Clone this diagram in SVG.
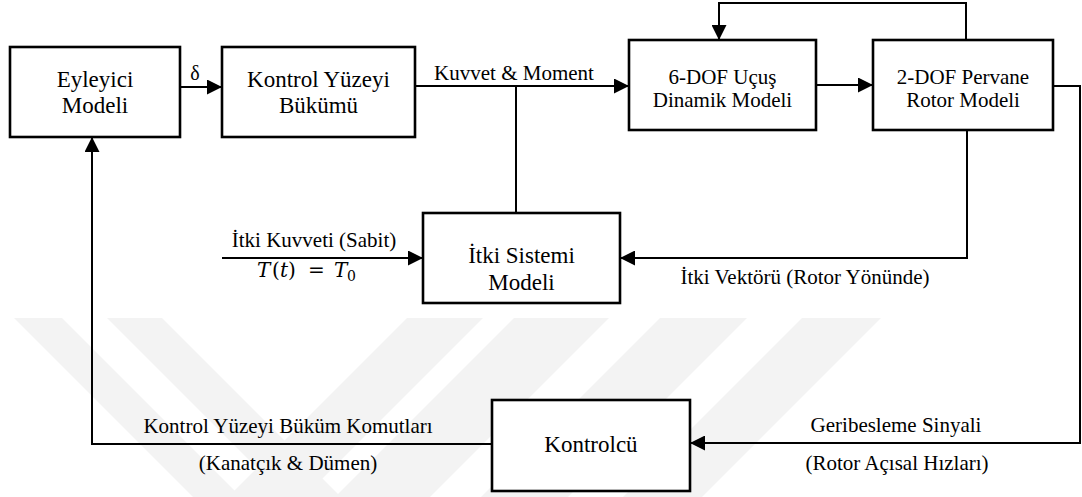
<svg xmlns="http://www.w3.org/2000/svg" width="1082" height="497" viewBox="0 0 1082 497">
<style>
text{font-family:"Liberation Serif","Times New Roman",serif;fill:#000}
.n{font-size:23px;text-anchor:middle}
.m{font-size:21px;text-anchor:middle}
.l{font-size:21px;text-anchor:middle}
.math{font-family:"DejaVu Serif",serif;font-size:20px}
.box{fill:#fff;stroke:#000;stroke-width:2.6}
.c{fill:none;stroke:#000;stroke-width:2}
.a{marker-end:url(#ah)}
.wm{fill:#f3f3f3}
</style>
<defs>
<marker id="ah" markerUnits="userSpaceOnUse" markerWidth="15" markerHeight="15" refX="15" refY="7.5" orient="auto">
<path d="M0,0 L15,7.5 L0,15 Z" fill="#000"/>
</marker>
</defs>
<rect width="1082" height="497" fill="#fff"/>
<g id="watermark">
<polygon class="wm" points="14,318 62,318 241,497 193,497"/>
<polygon class="wm" points="107,318 162,318 341,497 286,497"/>
<polygon class="wm" points="407,318 483,318 304,497 228,497"/>
<polygon class="wm" points="514,318 609,318 430,497 335,497"/>
<polygon class="wm" points="660,318 747,318 568,497 481,497"/>
<polygon class="wm" points="802,318 881,318 702,497 623,497"/>
</g>
<g id="connectors">
<path class="c a" d="M180,87 H222"/>
<path class="c a" d="M415,86 H629"/>
<path class="c" d="M516,86 V213"/>
<path class="c a" d="M816,85 H873"/>
<path class="c a" d="M966,40 V3 H719 V40"/>
<path class="c a" d="M1053,86 H1080 V443 H690"/>
<path class="c a" d="M967,130 V258 H620"/>
<path class="c a" d="M222,258 H423"/>
<path class="c a" d="M492,444 H92 V137"/>
<text class="l" x="195" y="80" style="font-size:20px">δ</text>
<text class="l" x="514" y="80">Kuvvet &amp; Moment</text>
<text class="l" x="314" y="247">İtki Kuvveti (Sabit)</text>
<text class="math" x="257" y="277"><tspan font-style="italic">T</tspan><tspan x="272">(</tspan><tspan x="280" font-style="italic">t</tspan><tspan x="288">)</tspan><tspan x="308">=</tspan><tspan x="334" font-style="italic">T</tspan><tspan x="347" dy="4" style="font-size:14px">0</tspan></text>
<text class="l" x="805" y="284">İtki Vektörü (Rotor Yönünde)</text>
<text class="l" x="288" y="433">Kontrol Yüzeyi Büküm Komutları</text>
<text class="l" x="288" y="470">(Kanatçık &amp; Dümen)</text>
<text class="l" x="896" y="432">Geribesleme Sinyali</text>
<text class="l" x="897" y="470">(Rotor Açısal Hızları)</text>
</g>
<g id="eyleyici">
<rect class="box" x="10" y="47" width="170" height="90"/>
<text class="n" x="95" y="87">Eyleyici</text>
<text class="n" x="95" y="113">Modeli</text>
</g>
<g id="kontrol-yuzeyi">
<rect class="box" x="222" y="47" width="193" height="90"/>
<text class="n" x="318.5" y="87">Kontrol Yüzeyi</text>
<text class="n" x="318.5" y="113">Bükümü</text>
</g>
<g id="dof6">
<rect class="box" x="629" y="40" width="187" height="90"/>
<text class="m" x="722.5" y="84">6-DOF Uçuş</text>
<text class="m" x="722.5" y="107">Dinamik Modeli</text>
</g>
<g id="dof2">
<rect class="box" x="873" y="40" width="180" height="90"/>
<text class="m" x="963" y="84">2-DOF Pervane</text>
<text class="m" x="963" y="107">Rotor Modeli</text>
</g>
<g id="itki">
<rect class="box" x="423" y="213" width="197" height="90"/>
<text class="n" x="521.5" y="263">İtki Sistemi</text>
<text class="n" x="521.5" y="290">Modeli</text>
</g>
<g id="kontrolcu">
<rect class="box" x="492" y="400" width="198" height="91"/>
<text class="n" x="591" y="452">Kontrolcü</text>
</g>
</svg>
